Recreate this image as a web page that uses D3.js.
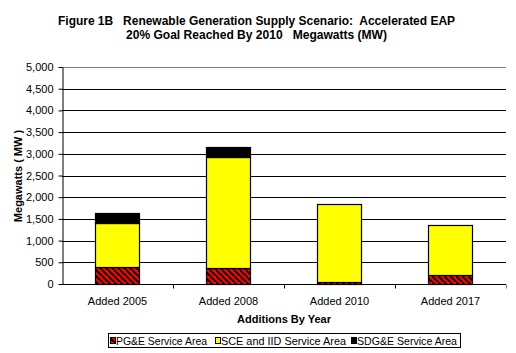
<!DOCTYPE html>
<html><head><meta charset="utf-8">
<script src="https://cdn.jsdelivr.net/npm/d3@7"></script>
<style>body{margin:0;background:#fff}svg{display:block}text{font-family:Arial,"Liberation Sans",sans-serif;white-space:pre}</style>
</head><body>
<script>
const categories = ["Added 2005","Added 2008","Added 2010","Added 2017"];
const seriesNames = ["PG&E Service Area","SCE and IID Service Area","SDG&E Service Area"];
const pge = [400, 360, 40, 200];
const sce = [1010, 2570, 1800, 1150];
const sdge = [230, 220, 0, 0];
const yTicks = [0,500,1000,1500,2000,2500,3000,3500,4000,4500,5000];
const titleLines = ["Figure 1B   Renewable Generation Supply Scenario:  Accelerated EAP","20% Goal Reached By 2010   Megawatts (MW)"];

const W=516,H=353;
const m={l:62,r:10,t:67,b:69};
const svg=d3.select("body").append("svg").attr("width",W).attr("height",H);
const defs=svg.append("defs");
const pat=defs.append("pattern").attr("id","hatch").attr("patternUnits","userSpaceOnUse")
  .attr("width",6).attr("height",6);
pat.append("rect").attr("width",6).attr("height",6).attr("fill","#ff0000");
pat.append("path").attr("d","M-1,-1L7,7M-4,2L2,8M4,-4L10,2").attr("stroke","#000").attr("stroke-width",2);

const x=d3.scaleBand().domain(categories).range([m.l,W-m.r]).paddingInner(0.6).paddingOuter(0.3);
const xb=d3.scaleBand().domain(categories).range([m.l,W-m.r]);
const y=d3.scaleLinear().domain([0,5000]).range([H-m.b,m.t]);

// gridlines
svg.append("g").selectAll("line").data(yTicks.filter(d=>d>0)).join("line")
  .attr("x1",m.l).attr("x2",W-m.r).attr("y1",d=>Math.round(y(d))+0.5).attr("y2",d=>Math.round(y(d))+0.5)
  .attr("stroke",d=>d===5000?"#808080":"#000").attr("stroke-width",1);

const data=categories.map((c,i)=>({cat:c,PGE:pge[i],SCE:sce[i],SDGE:sdge[i]}));
const stack=d3.stack().keys(["PGE","SCE","SDGE"])(data);
const fills=["url(#hatch)","#ffff00","#000000"];
stack.forEach((s,si)=>{
  svg.append("g").selectAll("rect").data(s.filter(d=>d[1]-d[0]>0)).join("rect")
    .attr("x",d=>Math.round(x(d.data.cat))+0.5).attr("width",Math.round(x.bandwidth()))
    .attr("y",d=>Math.round(y(d[1]))+0.5).attr("height",d=>Math.round(y(d[0]))-Math.round(y(d[1])))
    .attr("fill",fills[si]).attr("stroke","#000").attr("stroke-width",1.2);
});

// y axis
const ya=svg.append("g").attr("transform",`translate(${m.l+0.5},0)`)
  .call(d3.axisLeft(y).tickValues(yTicks).tickFormat(d3.format(",")).tickSize(4).tickSizeOuter(0));
ya.select(".domain").attr("stroke","#000");
ya.selectAll("line").attr("stroke","#000");
ya.selectAll("text").attr("font-size",11).attr("fill","#000").attr("dx",-2);

// x axis
const xa=svg.append("g").attr("transform",`translate(0,${Math.round(y(0))+0.5})`);
xa.append("line").attr("x1",m.l).attr("x2",W-m.r).attr("stroke","#000");
xa.selectAll("line.t").data(categories.slice(1).concat(["end"])).join("line").attr("class","t")
  .attr("x1",(d,i)=>i<3?Math.round(xb(d))+0.5:W-m.r+0.5).attr("x2",(d,i)=>i<3?Math.round(xb(d))+0.5:W-m.r+0.5)
  .attr("y1",0).attr("y2",4).attr("stroke",(d,i)=>i<3?"#000":"#808080");
xa.selectAll("text").data(categories).join("text")
  .attr("x",d=>xb(d)+xb.bandwidth()/2).attr("y",20).attr("text-anchor","middle")
  .attr("font-size",11).text(d=>d);

// titles
const titleX=[58,126], titleLen=[397,261];
svg.selectAll("text.title").data(titleLines).join("text").attr("class","title")
  .attr("x",(d,i)=>titleX[i]).attr("y",(d,i)=>25+i*14)
  .attr("textLength",(d,i)=>titleLen[i]).attr("lengthAdjust","spacingAndGlyphs")
  .attr("font-size",12).attr("font-weight","bold").text(d=>d);
svg.append("text").attr("x",284).attr("y",323).attr("text-anchor","middle")
  .attr("font-size",11).attr("font-weight","bold").text("Additions By Year");
svg.append("text").attr("transform","translate(22,176) rotate(-90)").attr("text-anchor","middle")
  .attr("font-size",11).attr("font-weight","bold").text("Megawatts ( MW )");

// legend
const lg=svg.append("g");
lg.append("rect").attr("x",108.5).attr("y",333.5).attr("width",352).attr("height",14)
  .attr("fill","#fff").attr("stroke","#000");
const lx=[110,215,351], lw=[91,125,100];
seriesNames.forEach((n,i)=>{
  lg.append("rect").attr("x",lx[i]+0.5).attr("y",337.5).attr("width",5).attr("height",6)
    .attr("fill",fills[i]).attr("stroke","#000");
  lg.append("text").attr("x",lx[i]+6).attr("y",345).attr("font-size",11)
    .attr("textLength",lw[i]).attr("lengthAdjust","spacingAndGlyphs").text(n);
});
</script>
</body></html>
